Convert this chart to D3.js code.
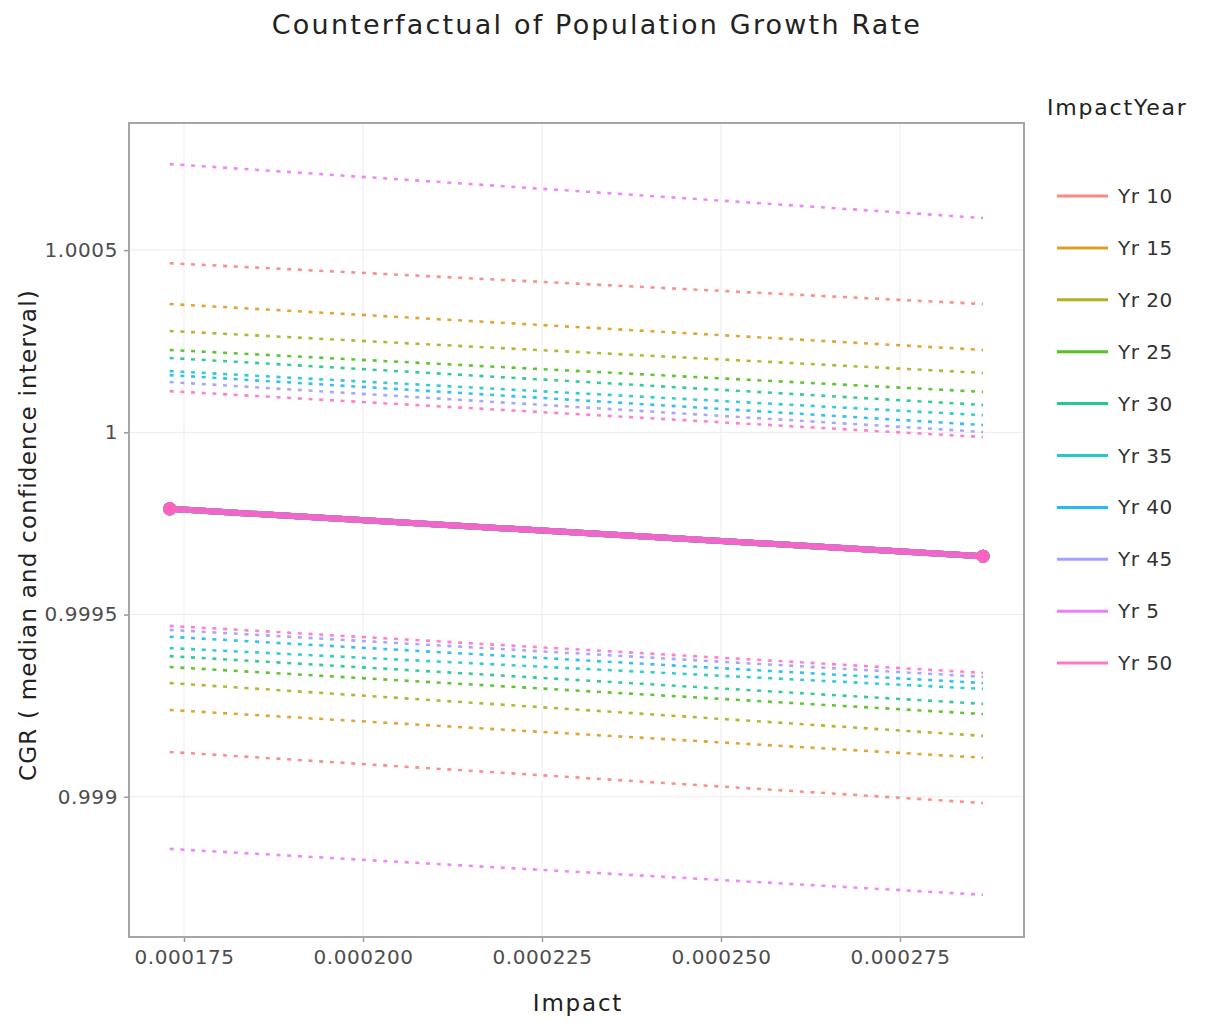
<!DOCTYPE html>
<html>
<head>
<meta charset="utf-8">
<script src="https://cdn.jsdelivr.net/npm/d3@7"></script>
<style>
  html, body { margin: 0; padding: 0; background: #fff; }
  svg { display: block; font-family: "DejaVu Sans", Verdana, sans-serif; }
</style>
</head>
<body>
<svg id="chart" width="1213" height="1023"></svg>
<script>
// ---- data ----
const seriesNames = ["Yr 10", "Yr 15", "Yr 20", "Yr 25", "Yr 30", "Yr 35", "Yr 40", "Yr 45", "Yr 5", "Yr 50"];
const seriesColors = ["#F8766D", "#D89000", "#A3A500", "#39B600", "#00BF7D", "#00BFC4", "#00B0F6", "#9590FF", "#E76BF3", "#FF62BC"];
const impactValues = [0.000173, 0.0002866];
// upper confidence bound [at first impact, at last impact]
const upperCI = [
  [1.000464, 1.000352],
  [1.000352, 1.000226],
  [1.000278, 1.000163],
  [1.000226, 1.000111],
  [1.000204, 1.000075],
  [1.000168, 1.000047],
  [1.000157, 1.000020],
  [1.000138, 1.000001],
  [1.000736, 1.000588],
  [1.000113, 0.999987]
];
// median
const medianCGR = [
  [0.99979, 0.99966],
  [0.99979, 0.99966],
  [0.99979, 0.99966],
  [0.99979, 0.99966],
  [0.99979, 0.99966],
  [0.99979, 0.99966],
  [0.99979, 0.99966],
  [0.99979, 0.99966],
  [0.99979, 0.99966],
  [0.99979, 0.99966]
];
// lower confidence bound
const lowerCI = [
  [0.999123, 0.998983],
  [0.999238, 0.999107],
  [0.999312, 0.999167],
  [0.999356, 0.999227],
  [0.999386, 0.999255],
  [0.999408, 0.999296],
  [0.999439, 0.999312],
  [0.999458, 0.999329],
  [0.998857, 0.998731],
  [0.999469, 0.999340]
];
const xTicks = [0.000175, 0.0002, 0.000225, 0.00025, 0.000275];
const xTickLabels = ["0.000175", "0.000200", "0.000225", "0.000250", "0.000275"];
const yTicks = [0.999, 0.9995, 1, 1.0005];
const yTickLabels = ["0.999", "0.9995", "1", "1.0005"];

// ---- layout ----
const L = 130, R = 1023, T = 124, B = 936;
const svg = d3.select("#chart");
const x = d3.scaleLinear().domain([0.00016746, 0.00029218]).range([L, R]);
const y = d3.scaleLinear().domain([0.998618, 1.000846]).range([B, T]);

// title
svg.append("text").attr("x", 597).attr("y", 34).attr("text-anchor", "middle")
  .attr("font-size", 27).attr("letter-spacing", 2.2).attr("fill", "#222")
  .text("Counterfactual of Population Growth Rate");

// grid
const g = svg.append("g");
g.selectAll(".gx").data(xTicks).join("line")
  .attr("x1", d => x(d)).attr("x2", d => x(d)).attr("y1", T).attr("y2", B)
  .attr("stroke", "#ebebeb").attr("stroke-width", 1);
g.selectAll(".gy").data(yTicks).join("line")
  .attr("y1", d => y(d)).attr("y2", d => y(d)).attr("x1", L).attr("x2", R)
  .attr("stroke", "#ebebeb").attr("stroke-width", 1);

// axes
const xAxis = d3.axisBottom(x).tickValues(xTicks).tickFormat((d, i) => xTickLabels[i]).tickSize(5).tickPadding(8);
const yAxis = d3.axisLeft(y).tickValues(yTicks).tickFormat((d, i) => yTickLabels[i]).tickSize(5).tickPadding(6);
const gx = svg.append("g").attr("transform", `translate(0,${B + 1})`).call(xAxis);
const gy = svg.append("g").attr("transform", `translate(${L - 1},0)`).call(yAxis);
[gx, gy].forEach(a => {
  a.select(".domain").remove();
  a.selectAll(".tick line").attr("stroke", "#999").attr("stroke-width", 1.5);
  a.selectAll(".tick text").attr("font-size", 20).attr("fill", "#4d4d4d")
    .attr("letter-spacing", 0.6).attr("font-family", "DejaVu Sans, sans-serif");
});

// lines
const line = d3.line().x((d, i) => x(impactValues[i])).y(d => y(d));
const plot = svg.append("g");
seriesNames.forEach((name, i) => {
  [upperCI[i], lowerCI[i]].forEach(vals => {
    plot.append("path").attr("d", line(vals)).attr("fill", "none")
      .attr("stroke", seriesColors[i]).attr("stroke-width", 2.6)
      .attr("stroke-dasharray", "4,6.7").attr("opacity", 0.8);
  });
});
seriesNames.forEach((name, i) => {
  plot.append("path").attr("d", line(medianCGR[i])).attr("fill", "none")
    .attr("stroke", seriesColors[i]).attr("stroke-width", 6).attr("opacity", 0.75);
  plot.selectAll(null).data(medianCGR[i]).join("circle")
    .attr("cx", (d, k) => x(impactValues[k])).attr("cy", d => y(d)).attr("r", 6.5)
    .attr("fill", seriesColors[i]);
});

// border
svg.append("rect").attr("x", L - 1).attr("y", T - 1).attr("width", R - L + 2).attr("height", B - T + 2)
  .attr("fill", "none").attr("stroke", "#a6a6a6").attr("stroke-width", 2);

// axis titles
svg.append("text").attr("x", 578).attr("y", 1011).attr("text-anchor", "middle")
  .attr("font-size", 23).attr("letter-spacing", 1.8).attr("fill", "#222").text("Impact");
svg.append("text").attr("transform", "translate(36,535) rotate(-90)").attr("text-anchor", "middle")
  .attr("font-size", 23).attr("letter-spacing", 1.2).attr("fill", "#222")
  .text("CGR ( median and confidence interval)");

// legend
const leg = svg.append("g");
leg.append("text").attr("x", 1047).attr("y", 115).attr("font-size", 22).attr("letter-spacing", 1.8)
  .attr("fill", "#222").text("ImpactYear");
seriesNames.forEach((name, i) => {
  const yy = 196 + i * 51.9;
  leg.append("line").attr("x1", 1057).attr("x2", 1108).attr("y1", yy).attr("y2", yy)
    .attr("stroke", seriesColors[i]).attr("stroke-width", 3).attr("opacity", 0.85);
  leg.append("text").attr("x", 1118).attr("y", yy + 7).attr("font-size", 20).attr("letter-spacing", 0.5)
    .attr("fill", "#333").text(name);
});
</script>
</body>
</html>
